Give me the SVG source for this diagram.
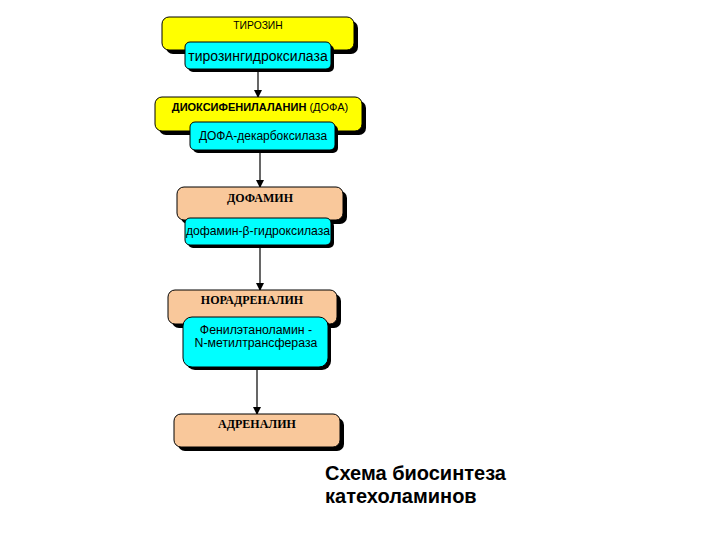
<svg xmlns="http://www.w3.org/2000/svg" width="720" height="540" viewBox="0 0 720 540">
<style>
.sh{fill:#000}
.y{fill:#FFFF00;stroke:#000;stroke-width:1}
.p{fill:#F9C89B;stroke:#000;stroke-width:1}
.c{fill:#00FFFF;stroke:#000;stroke-width:1}
.t{font-family:"Liberation Sans",Arial,sans-serif;fill:#000;text-anchor:middle}
.s{font-family:"Liberation Serif","Times New Roman",serif;font-weight:bold;fill:#000;text-anchor:middle;font-size:12px}
.ln{stroke:#000;stroke-width:1.2;fill:none}
</style>
<defs>
<marker id="ah" markerWidth="8" markerHeight="8" refX="7" refY="4" orient="auto" markerUnits="userSpaceOnUse">
<path d="M0,0 L8,4 L0,8 Z" fill="#000"/>
</marker>
</defs>
<rect width="720" height="540" fill="#fff"/>
<g id="connectors">
<line class="ln" x1="258" y1="70" x2="258" y2="97" marker-end="url(#ah)"/>
<line class="ln" x1="260" y1="152" x2="260" y2="187" marker-end="url(#ah)"/>
<line class="ln" x1="260" y1="247" x2="260" y2="290" marker-end="url(#ah)"/>
<line class="ln" x1="257" y1="369" x2="257" y2="414" marker-end="url(#ah)"/>
</g>
<g id="tyrosine">
<rect class="sh" x="166" y="21" width="192" height="33" rx="7"/>
<rect class="y" x="162" y="17" width="192" height="33" rx="7"/>
<text class="t" x="258" y="29" font-size="10.3">ТИРОЗИН</text>
</g>
<g id="enz1">
<rect class="sh" x="188" y="45" width="146" height="27" rx="5"/>
<rect class="c" x="185" y="42" width="146" height="27" rx="5"/>
<text class="t" x="258" y="61" font-size="14">тирозингидроксилаза</text>
</g>
<g id="dopa">
<rect class="sh" x="159" y="101" width="207" height="34" rx="7"/>
<rect class="y" x="155" y="97" width="207" height="34" rx="7"/>
<text class="t" x="260" y="111" font-size="11"><tspan font-weight="bold">ДИОКСИФЕНИЛАЛАНИН</tspan> (ДОФА)</text>
</g>
<g id="enz2">
<rect class="sh" x="193" y="125" width="145" height="28" rx="5"/>
<rect class="c" x="190" y="122" width="145" height="28" rx="5"/>
<text class="t" x="263" y="140" font-size="12">ДОФА-декарбоксилаза</text>
</g>
<g id="dopamine">
<rect class="sh" x="181" y="191" width="166" height="33" rx="7"/>
<rect class="p" x="177" y="187" width="166" height="33" rx="7"/>
<text class="s" x="260" y="202" font-size="11.3">ДОФАМИН</text>
</g>
<g id="enz3">
<rect class="sh" x="188" y="221" width="146" height="27" rx="5"/>
<rect class="c" x="185" y="218" width="146" height="27" rx="5"/>
<text class="t" x="258" y="235" font-size="12.2">дофамин-β-гидроксилаза</text>
</g>
<g id="noradrenaline">
<rect class="sh" x="172" y="294" width="169" height="34" rx="7"/>
<rect class="p" x="168" y="290" width="169" height="34" rx="7"/>
<text class="s" x="252" y="304">НОРАДРЕНАЛИН</text>
</g>
<g id="enz4">
<rect class="sh" x="186" y="320" width="145" height="50" rx="9"/>
<rect class="c" x="183" y="317" width="145" height="50" rx="9"/>
<text class="t" x="256" y="334" font-size="12.3">Фенилэтаноламин -</text>
<text class="t" x="256" y="347" font-size="12.3">N-метилтрансфераза</text>
</g>
<g id="adrenaline">
<rect class="sh" x="178" y="418" width="166" height="33" rx="7"/>
<rect class="p" x="174" y="414" width="166" height="33" rx="7"/>
<text class="s" x="257" y="428">АДРЕНАЛИН</text>
</g>
<g id="title">
<text x="325" y="480" font-family="Liberation Sans,Arial,sans-serif" font-weight="bold" font-size="20" fill="#000">Схема биосинтеза</text>
<text x="325" y="503" font-family="Liberation Sans,Arial,sans-serif" font-weight="bold" font-size="20" fill="#000">катехоламинов</text>
</g>
</svg>
